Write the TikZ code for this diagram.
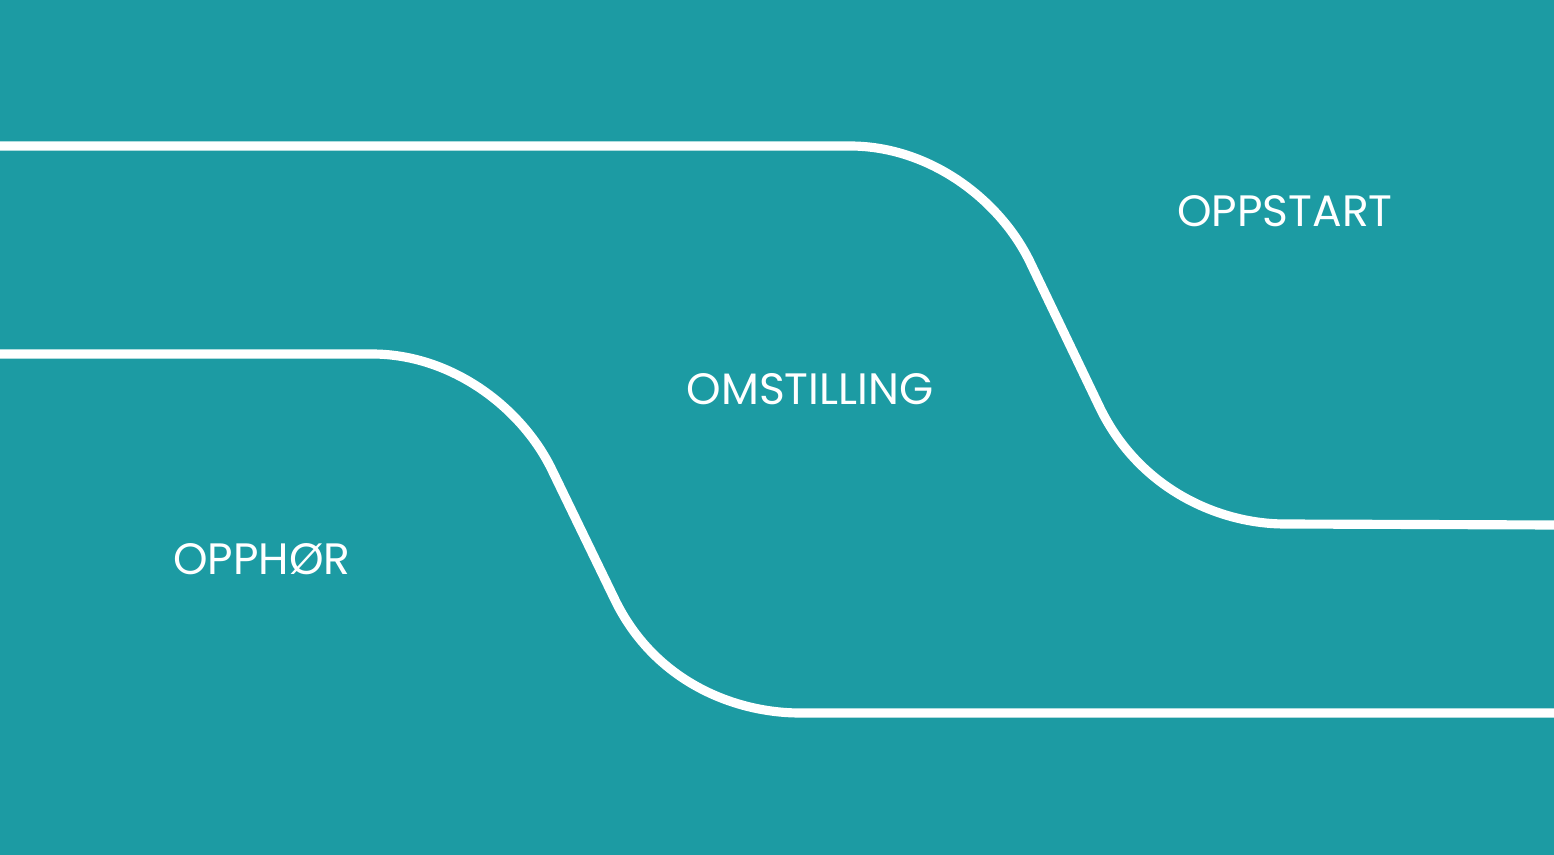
\documentclass[tikz,border=0pt]{standalone}
\usepackage{fontspec}
\setmainfont{Poppins}
\definecolor{teal}{HTML}{1C9BA3}
\begin{document}
\begin{tikzpicture}[x=0.01cm,y=-0.01cm]
  \tikzset{track/.style={white,line width=2.6pt}}
  \tikzset{phase/.style={white,font=\fontsize{12.5}{15}\selectfont}}
  \fill[teal] (0,0) rectangle (1554,855);
  \useasboundingbox (0,0) rectangle (1554,855);
  \draw[track] (0,146) -- (850,146) .. controls (930,146) and (1000,200) .. (1030,262)
    -- (1100,408) .. controls (1140,490) and (1220,524) .. (1285,524) -- (1554,525);
  \draw[track] (0,354) -- (372,354) .. controls (452,354) and (522,408) .. (552,470)
    -- (615,600) .. controls (655,682) and (735,713) .. (800,713) -- (1554,713);
  \node[phase] (oppstart) at (1285,211) {OPPSTART};
  \node[phase] (omstilling) at (810,389) {OMSTILLING};
  \node[phase] (opphor) at (262,559) {OPPHØR};
\end{tikzpicture}
\end{document}
